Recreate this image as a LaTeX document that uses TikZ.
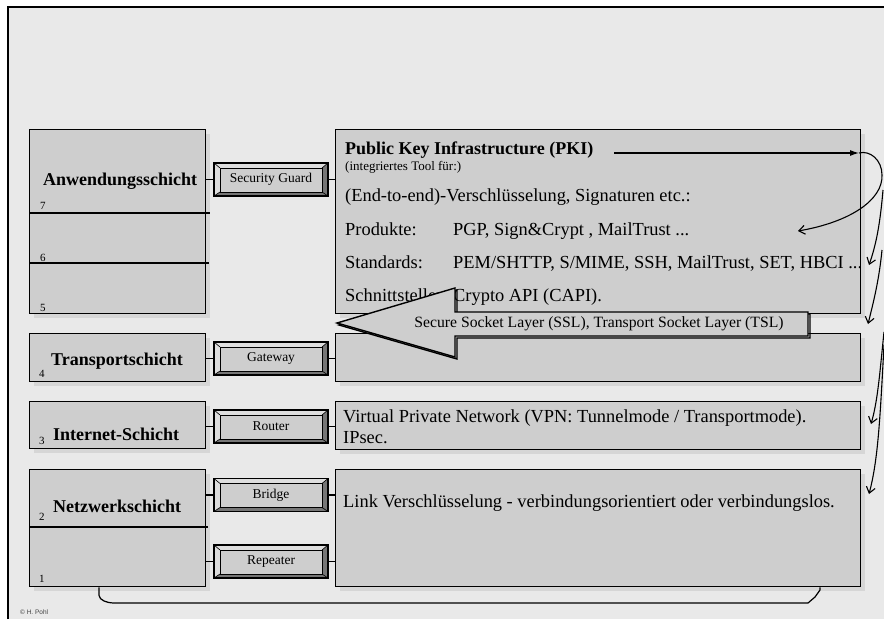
\documentclass[tikz,border=0pt]{standalone}
\usepackage{fontspec}
\setmainfont{Liberation Serif}
\newfontfamily\credfont{Liberation Sans}
\usetikzlibrary{arrows.meta,shadows}
\definecolor{pagebg}{HTML}{E9E9E9}
\definecolor{boxfill}{HTML}{CECECE}
\definecolor{shadowgray}{HTML}{D6D6D6}
\definecolor{bevlight}{HTML}{DEDEDE}
\definecolor{bevdark}{HTML}{767676}
\begin{document}
\begin{tikzpicture}[x=1pt,y=1pt,
  layerbox/.style={draw, line width=1.3pt, fill=boxfill, inner sep=0, anchor=north west,
    drop shadow={shadow xshift=4pt, shadow yshift=-4pt, fill=shadowgray, opacity=1}},
  devbox/.style={draw, line width=1.1pt, fill=boxfill, minimum width=114, minimum height=33,
    inner sep=0, font=\fontsize{13.5}{15}\selectfont,
    path picture={
      \coordinate (dNW) at (path picture bounding box.north west);
      \coordinate (dSE) at (path picture bounding box.south east);
      \coordinate (dNE) at (dNW -| dSE);
      \coordinate (dSW) at (dNW |- dSE);
      \coordinate (iNW) at ([shift={(6,-5)}]dNW);
      \coordinate (iNE) at ([shift={(-6,-5)}]dNE);
      \coordinate (iSE) at ([shift={(-6,4)}]dSE);
      \coordinate (iSW) at ([shift={(6,4)}]dSW);
      \fill[bevlight] (dNW) -- (dNE) -- (iNE) -- (iNW) -- cycle;
      \fill[bevlight] (dNW) -- (iNW) -- (iSW) -- (dSW) -- cycle;
      \fill[bevdark] (dNE) -- (dSE) -- (iSE) -- (iNE) -- cycle;
      \fill[bevdark] (dSW) -- (iSW) -- (iSE) -- (dSE) -- cycle;
      \draw[line width=0.8pt] (iNW) rectangle (iSE);
      \draw[line width=0.6pt] (dNW) -- (iNW) (dNE) -- (iNE) (dSE) -- (iSE) (dSW) -- (iSW);
    }},
  stub/.style={line width=1.1pt},
  lbl/.style={font=\bfseries\fontsize{18}{20}\selectfont, anchor=base west, inner sep=0},
  body/.style={font=\fontsize{18.4}{20}\selectfont, anchor=base west, inner sep=0},
  small/.style={font=\fontsize{13}{14}\selectfont, anchor=base west, inner sep=0},
  num/.style={font=\fontsize{11}{12}\selectfont, anchor=base west, inner sep=0},
  curl/.style={line width=1.1pt, -{Straight Barb[length=6pt,width=9pt,line width=1.1pt]}},
]
% page and frame
\useasboundingbox (0,0) rectangle (884,-619);
\fill[white] (0,0) rectangle (884,-619);
\fill[pagebg] (8,-7) rectangle (884,-619);
\draw[line width=1.8pt] (8,-619) -- (8,-7) -- (884,-7);

% layer boxes, left column
\node[layerbox, minimum width=176, minimum height=184] (appL) at (29,-129) {};
\node[layerbox, minimum width=176, minimum height=48] (transL) at (29,-333) {};
\node[layerbox, minimum width=176, minimum height=47] (interL) at (29,-401) {};
\node[layerbox, minimum width=176, minimum height=117] (netL) at (29,-469) {};
% layer boxes, right column
\node[layerbox, minimum width=525, minimum height=184] (pki) at (335,-129) {};
\node[layerbox, minimum width=525, minimum height=48] (transR) at (335,-333) {};
\node[layerbox, minimum width=525, minimum height=48] (interR) at (335,-401) {};
\node[layerbox, minimum width=525, minimum height=117] (netR) at (335,-469) {};

% sub-layer separators
\draw[line width=1.3pt] (appL.west |- 0,-213) -- (210,-213);
\draw[line width=1.3pt] (appL.west |- 0,-263) -- (209,-263);
\draw[line width=1.3pt] (netL.west |- 0,-527) -- (208,-527);

% coupling devices
\node[devbox] (sg) at (271,-179.5) {Security Guard};
\node[devbox] (gw) at (271,-358.5) {Gateway};
\node[devbox] (rt) at (271,-426.5) {Router};
\node[devbox] (br) at (271,-495) {Bridge};
\node[devbox] (rp) at (271,-561.5) {Repeater};
\foreach \d/\l/\r in {sg/appL/pki, gw/transL/transR, rt/interL/interR, br/netL/netR, rp/netL/netR}{
  \draw[stub] (\d.west) -- (\d.west -| \l.east);
  \draw[stub] (\d.east) -- (\d.east -| \r.west);
}

% layer names and numbers
\node[lbl] (nApp) at (43,-185) {Anwendungsschicht};
\node[lbl] (nTrans) at (51,-365) {Transportschicht};
\node[lbl] (nInter) at (53,-440) {Internet-Schicht};
\node[lbl] (nNet) at (53,-512) {Netzwerkschicht};
\node[num] (n7) at (40,-209) {7};
\node[num] (n6) at (40,-261) {6};
\node[num] (n5) at (40,-311) {5};
\node[num] (n4) at (39,-377) {4};
\node[num] (n3) at (39,-444) {3};
\node[num] (n2) at (39,-520) {2};
\node[num] (n1) at (39,-582) {1};

% PKI contents
\node[lbl] (pkiT) at (345,-154) {Public Key Infrastructure (PKI)};
\node[small] (pkiS) at (345,-170) {(integriertes Tool für:)};
\node[body] (e2e) at (345,-201) {(End-to-end)-Verschlüsselung, Signaturen etc.:};
\node[body] (prodK) at (345,-235) {Produkte:};
\node[body] (prodV) at (453,-235) {PGP, Sign\&Crypt , MailTrust ...};
\node[body] (stdK) at (345,-268) {Standards:};
\node[body] (stdV) at (453,-268) {PEM/SHTTP, S/MIME, SSH, MailTrust, SET, HBCI ...};
\node[body] (ifK) at (345,-301) {Schnittstellen:};
\node[body] (ifV) at (453,-301) {Crypto API (CAPI).};

% network layer contents
\node[body] (vpn) at (343,-422) {Virtual Private Network (VPN: Tunnelmode / Transportmode).};
\node[body] (ipsec) at (343,-443) {IPsec.};
\node[body] (link) at (343,-507) {Link Verschlüsselung - verbindungsorientiert oder verbindungslos.};

% SSL/TLS block arrow
\draw[line width=1.4pt, shift={(2,-2)}]
  (337,-323) -- (455,-288) -- (455,-312) -- (808,-312) -- (808,-336) -- (455,-336) -- (455,-357) -- cycle;
\draw[line width=1.4pt, fill=boxfill]
  (337,-323) -- (455,-288) -- (455,-312) -- (808,-312) -- (808,-336) -- (455,-336) -- (455,-357) -- cycle;
\node[font=\fontsize{15.7}{17}\selectfont, inner sep=0] (ssl) at (599,-324)
  {Secure Socket Layer (SSL), Transport Socket Layer (TSL)};

% bracket under the lowest layer
\draw[line width=1.2pt]
  ([xshift=70pt]netL.south west) -- ++(0,-8) .. controls +(0,-5) and +(-5,0) .. (113,-603)
  -- (808,-603) -- (815,-597) -- (820,-590) -- (netR.south -| 820,0);

% PKI reaches into all layers
\coordinate (aS) at (614,-153);
\coordinate (aE) at (859,-153);
\coordinate (tProd) at (798,-231);
\coordinate (tStd) at (869,-265);
\coordinate (tSsl) at (868,-324);
\coordinate (tVpn) at (871,-424);
\coordinate (tLink) at (869,-494);
\draw[line width=1.1pt, -{Latex[length=9pt,width=6pt]}] (aS) -- (aE);
\draw[curl] (aE) .. controls (870,-150) and (882,-160) .. (882,-175)
  .. controls (883,-200) and (850,-222) .. (tProd);
\draw[curl] (883,-190) .. controls (880,-225) and (876,-245) .. (tStd);
\draw[curl] (882,-250) .. controls (879,-280) and (874,-300) .. (tSsl);
\draw[curl] (884,-332) .. controls (880,-370) and (878,-400) .. (tVpn);
\draw[curl] (884,-345) .. controls (880,-420) and (878,-460) .. (tLink);

% credit
\node[font=\credfont\fontsize{6.5}{7}\selectfont, text=black!75, anchor=base west, inner sep=0]
  (cred) at (20,-614) {© H. Pohl};
\end{tikzpicture}
\end{document}
